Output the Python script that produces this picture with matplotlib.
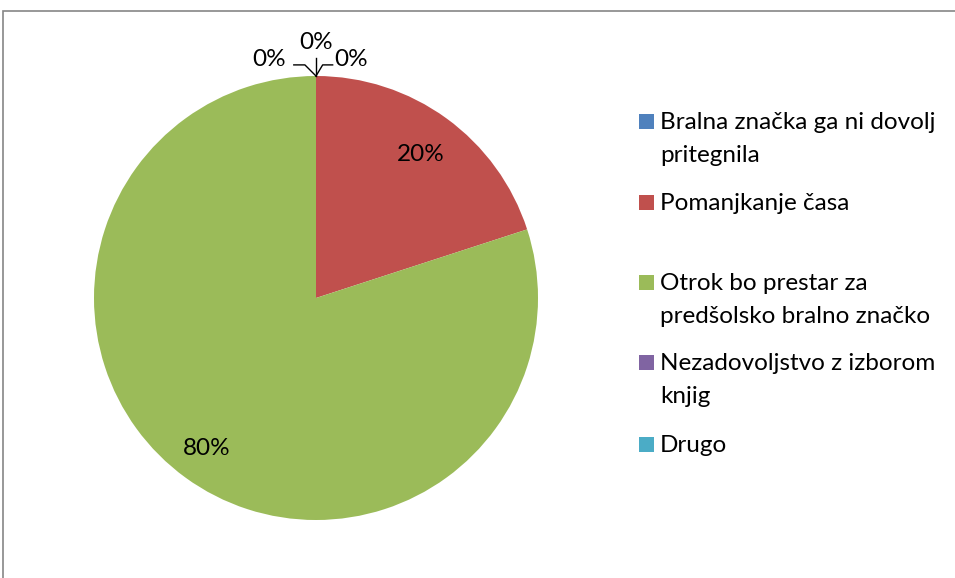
import numpy as np
import matplotlib.pyplot as plt
from matplotlib.patches import Rectangle

categories = [
    "Bralna značka ga ni dovolj\npritegnila",
    "Pomanjkanje časa",
    "Otrok bo prestar za\npredšolsko bralno značko",
    "Nezadovoljstvo z izborom\nknjig",
    "Drugo",
]
values = [0, 20, 80, 0, 0]
colors = ["#4F81BD", "#C0504D", "#9BBB59", "#8064A2", "#4BACC6"]

plt.rcParams['font.family'] = ['Lato', 'DejaVu Sans']
FS = 17.5

W, H = 955, 578
fig = plt.figure(figsize=(W / 100, H / 100), dpi=100)

# chart frame
fig.patches.append(Rectangle((3 / W, -0.05), 1.2, 1.05 - 11 / H, transform=fig.transFigure,
                             fill=False, edgecolor="#868686", linewidth=1.2))

cx, cy, r = 316, 298, 222
ax = fig.add_axes([(cx - r) / W, (H - cy - r) / H, 2 * r / W, 2 * r / H])
wedges, _ = ax.pie(values, colors=colors, startangle=90, counterclock=False,
                   radius=1, wedgeprops=dict(linewidth=0))
ax.set_xlim(-1, 1)
ax.set_ylim(-1, 1)
ax.set_aspect('equal')
ax.axis('off')

total = sum(values)
zero_offsets = {0: (0.16, 0.075), 3: (-0.21, 0.075), 4: (0.0, 0.15)}
for i, (w, v) in enumerate(zip(wedges, values)):
    mid = np.deg2rad((w.theta1 + w.theta2) / 2)
    pct = f"{v / total * 100:.0f}%"
    if v > 0:
        d = 0.8 if v < 50 else 0.84
        ax.text(d * np.cos(mid), d * np.sin(mid), pct, ha='center', va='center', fontsize=FS)
    else:
        px, py = np.cos(mid), np.sin(mid)
        ox, oy = zero_offsets[i]
        tx, ty = px + ox, py + oy
        ax.text(tx, ty, pct, ha='center', va='center', fontsize=FS, clip_on=False)
        if ox > 0:
            pts = [(px, py), (px + 0.03, py + 0.05), (px + 0.075, py + 0.05)]
        elif ox < 0:
            pts = [(px, py), (px - 0.05, py + 0.05), (px - 0.1, py + 0.05)]
        else:
            pts = [(px, py), (px, py + 0.08)]
        xs, ys = zip(*pts)
        ax.plot(xs, ys, color='black', linewidth=1, clip_on=False)

# legend (baseline of first line for each entry, in pixels from top)
leg_base = [129.5, 210, 290, 370, 451.5]
line_step = 33
for c, lab, yb in zip(colors, categories, leg_base):
    fig.patches.append(Rectangle((639 / W, 1 - yb / H), 15 / W, 15 / H,
                                 transform=fig.transFigure, facecolor=c, edgecolor='none'))
    for k, line in enumerate(lab.split("\n")):
        fig.text(660 / W, 1 - (yb + k * line_step) / H, line, fontsize=FS,
                 va='baseline', ha='left')

fig.savefig("out.png", dpi=100)
